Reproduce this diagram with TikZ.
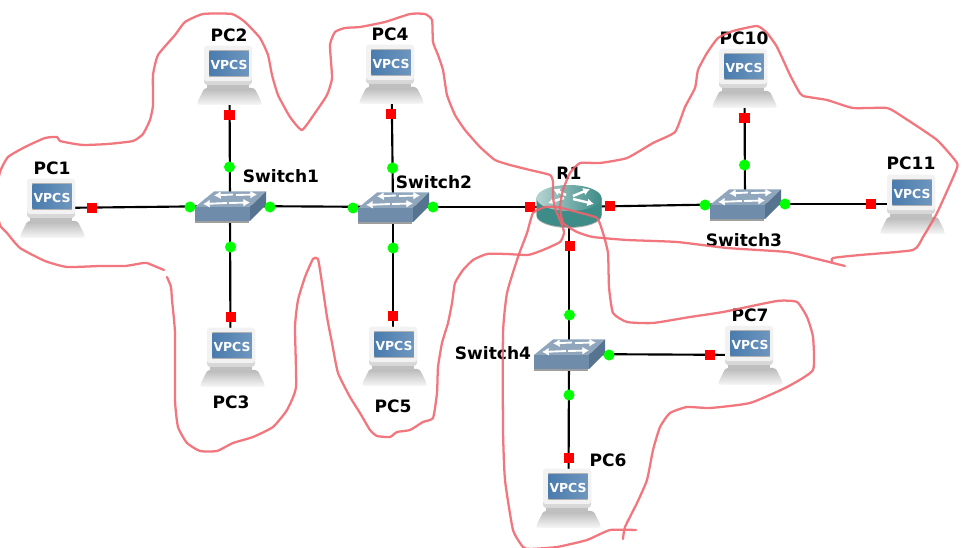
\documentclass[tikz,border=0pt]{standalone}
\usepackage{fontspec}
\setmainfont{DejaVu Sans}
\usetikzlibrary{arrows.meta}
\definecolor{scribble}{HTML}{F0646C}
\definecolor{swtop}{HTML}{8FA6BC}
\definecolor{swfront}{HTML}{6F8DAB}
\definecolor{swside}{HTML}{56738F}
\definecolor{rtteal}{HTML}{3D8C88}
\definecolor{rtlight}{HTML}{B5D3D1}
\definecolor{scr}{HTML}{4A7CAE}
\tikzset{
  x=0.75pt,y=-0.75pt,
  anchorpt/.style={inner sep=0pt,minimum size=1pt},
  link/.style={draw=black,line width=1.6pt},
  redmark/.style={fill=red,draw=none,inner sep=0pt,minimum size=7.8pt},
  greenmark/.style={circle,fill=green,draw=none,inner sep=0pt,minimum size=8.3pt},
  lab/.style={font=\fontsize{12.8}{14}\selectfont\bfseries,inner sep=0pt,text=black},
  scrawl/.style={draw=scribble,line width=1.7pt,line join=round,line cap=round,opacity=.88,smooth,tension=.3},
  swarrow/.style={draw=white,line width=1.4pt,-{Latex[length=5pt,width=6pt]}},
  vpcs/.pic={
    \shade[top color=gray!55,bottom color=gray!6,rounded corners=2pt] (-25,13) -- (25,13) -- (32.5,28) -- (31,30) -- (-31,30) -- (-32.5,28) -- cycle;
    \fill[gray!50] (-23,10) rectangle (19,14);
    \shade[top color=gray!14,bottom color=gray!32,rounded corners=2.5pt] (-25.5,-29) rectangle (22.5,10);
    \fill[gray!10,rounded corners=2pt] (-25.5,-29) rectangle (22.5,6);
    \fill[gray!60] (-21,-24.5) rectangle (19.5,2);
    \shade[left color=scr,right color=scr!80!white] (-20,-23.5) rectangle (19,1);
    \node[font=\fontsize{9.3}{11}\selectfont\bfseries,text=white,inner sep=0pt] (-t) at (-0.5,-10.5) {VPCS};
  },
  switchicon/.pic={
    \fill[gray!75] (-35,3) rectangle (19,17);
    \fill[swtop] (-35,1) -- (-16,-14.5) -- (36,-14.5) -- (20,1) -- cycle;
    \fill[swfront] (-35,1) rectangle (20,15);
    \fill[swside] (20,1) -- (36,-14.5) -- (36,-1) -- (20,15) -- cycle;
    \draw[swarrow] (3,-11.5) -- (-16,-10.5);
    \draw[swarrow] (6,-11) -- (27,-11.5);
    \draw[swarrow] (-3,-3) -- (-27,-2);
    \draw[swarrow] (-1,-3) -- (20,-3.5);
  },
  routericon/.pic={
    \fill[gray!60] (-32.5,-9) -- (-32.5,9) arc[start angle=180,end angle=0,x radius=32.5,y radius=12] -- (32.5,-9) -- cycle;
    \fill[rtteal] (-32.5,-9) -- (-32.5,8) arc[start angle=180,end angle=0,x radius=32.5,y radius=12] -- (32.5,-9) -- cycle;
    \shade[left color=rtlight,middle color=rtteal,right color=rtteal] (0,-9) ellipse[x radius=32.5,y radius=13];
    \draw[swarrow,line width=1.8pt] (-3,-12) -- (-16,-18);
    \draw[swarrow,line width=1.8pt] (-5,-9) -- (-21,-4);
    \draw[swarrow,line width=1.8pt] (4,-11) -- (21,-18);
    \draw[swarrow,line width=1.8pt] (4,-8) -- (25,-3);
  },
}
\begin{document}
\begin{tikzpicture}
\useasboundingbox (0,0) rectangle (964,548);
\clip (0,0) rectangle (964,548);
\fill[white] (0,0) rectangle (964,548);
% device anchors
\foreach \n/\px/\py in {pc1/52.5/208,pc2/229.5/75,pc3/232.5/357,pc4/391.5/74,pc5/394.5/356,pc6/568.5/498,pc7/750.5/355,pc10/744.5/78,pc11/912.5/204,s1/230/206,s2/393/207,s3/745/204,s4/569/354,r1/569/207}
  \node[anchorpt] (\n) at (\px,\py) {};
% links
\draw[link] (pc1) -- (s1);
\draw[link] (pc2) -- (s1);
\draw[link] (pc3.center) ++(-2,0) -- (s1);
\draw[link] (s1) -- (s2);
\draw[link] (pc4) -- (s2);
\draw[link] (pc5.center) ++(-1.5,0) -- (s2);
\draw[link] (s2) -- (r1);
\draw[link] (r1) -- (s3);
\draw[link] (r1) -- (s4);
\draw[link] (s3) -- (pc10);
\draw[link] (s3) -- (pc11);
\draw[link] (s4) -- (pc6);
\draw[link] (s4) -- (pc7);
% icons
\foreach \n in {pc1,pc2,pc3,pc4,pc5,pc6,pc7,pc10,pc11} \pic (i\n) at (\n) {vpcs};
\foreach \n in {s1,s2,s3,s4} \pic at (\n) {switchicon};
\pic at (r1) {routericon};
% markers
\foreach \n/\px/\py in {a/92/208,b/229.5/115,c/391/114,d/744.5/118,e/871/204,f/231/317,g/393/316,h/569/458,i/710/355,j/530/207,k/610/206,l/570/246}
  \node[redmark] (m\n) at (\px,\py) {};
\foreach \n/\px/\py in {a/190/207,b/270/207,c/229.5/167,d/230.5/247,e/353/208,f/433/207,g/392.5/168,h/393/248,i/705/205,j/785/204,k/744.5/165,l/569.5/315,m/609/355,n/569/395}
  \node[greenmark] (g\n) at (\px,\py) {};
% labels
\node[lab] (l1) at (52,168) {PC1};
\node[lab] (l2) at (229,35) {PC2};
\node[lab] (l3) at (231,402) {PC3};
\node[lab] (l4) at (390,34) {PC4};
\node[lab] (l5) at (393,406) {PC5};
\node[lab] (l6) at (608,460) {PC6};
\node[lab] (l7) at (750,315) {PC7};
\node[lab] (l10) at (744,38) {PC10};
\node[lab] (l11) at (911,163) {PC11};
\node[lab] (lr) at (569,173) {R1};
\node[lab] (ls1) at (281,176) {Switch1};
\node[lab] (ls2) at (434,182) {Switch2};
\node[lab] (ls3) at (744,240) {Switch3};
\node[lab] (ls4) at (493,353) {Switch4};
% freehand outlines
\draw[scrawl] plot coordinates {(164,270)(147,263)(143,263)(125,266)(100,266)(67,267)(45,261)(20,248)(7,233)(0,225)(-5,200)(0,172)(8,157)(25,147)(45,138)(57,137)(60,141)(75,144)(85,145)(108,144)(133,141)(143,134)(150,120)(153,105)(153,75)(158,55)(175,35)(185,22)(203,14)(232,14)(245,22)(260,38)(268,55)(272,75)(278,95)(290,117)(302,130)(315,113)(327,95)(332,78)(330,45)(335,32)(345,28)(360,27)(385,22)(410,14)(425,14)(432,20)(433,42)(438,55)(443,70)(447,95)(455,115)(465,130)(480,147)(495,160)(510,165)(530,170)(550,175)(553,182)(553,197)(555,208)(562,225)(564,233)(560,242)(543,250)(528,255)(507,254)(487,254)(473,260)(463,270)(455,283)(452,303)(448,323)(442,343)(438,367)(437,393)(433,418)(423,422)(410,430)(397,432)(390,437)(377,436)(370,430)(360,413)(350,397)(338,373)(332,343)(327,317)(322,283)(318,259)(313,259)(305,277)(298,300)(295,327)(296,387)(287,410)(273,427)(253,437)(233,443)(217,451)(200,451)(187,443)(178,427)(175,400)(175,333)(172,300)(171,287)(167,277)};
\draw[scrawl] plot coordinates {(845,266)(813,258)(787,252)(727,248)(677,242)(627,240)(593,237)(577,232)(563,223)(560,207)(563,190)(570,173)(580,163)(600,163)(627,158)(653,143)(675,132)(685,107)(695,88)(698,70)(707,53)(718,38)(733,31)(757,26)(767,33)(777,47)(790,75)(798,90)(803,96)(827,100)(853,108)(887,108)(903,117)(937,140)(957,163)(955,173)(937,213)(923,237)(913,250)(860,255)(833,258)(832,263)};
\draw[scrawl] plot coordinates {(636,530)(610,530)(587,540)(557,547)(530,549)(523,547)(513,530)(505,480)(503,430)(503,333)(507,293)(518,257)(527,233)(533,213)(545,207)(557,207)(577,212)(597,218)(603,233)(608,253)(609,287)(613,313)(627,322)(653,323)(690,317)(723,312)(777,301)(797,302)(807,317)(813,337)(813,370)(787,387)(750,403)(710,408)(687,407)(670,413)(660,427)(653,450)(647,480)(637,503)(625,527)(623,539)};
\end{tikzpicture}
\end{document}
